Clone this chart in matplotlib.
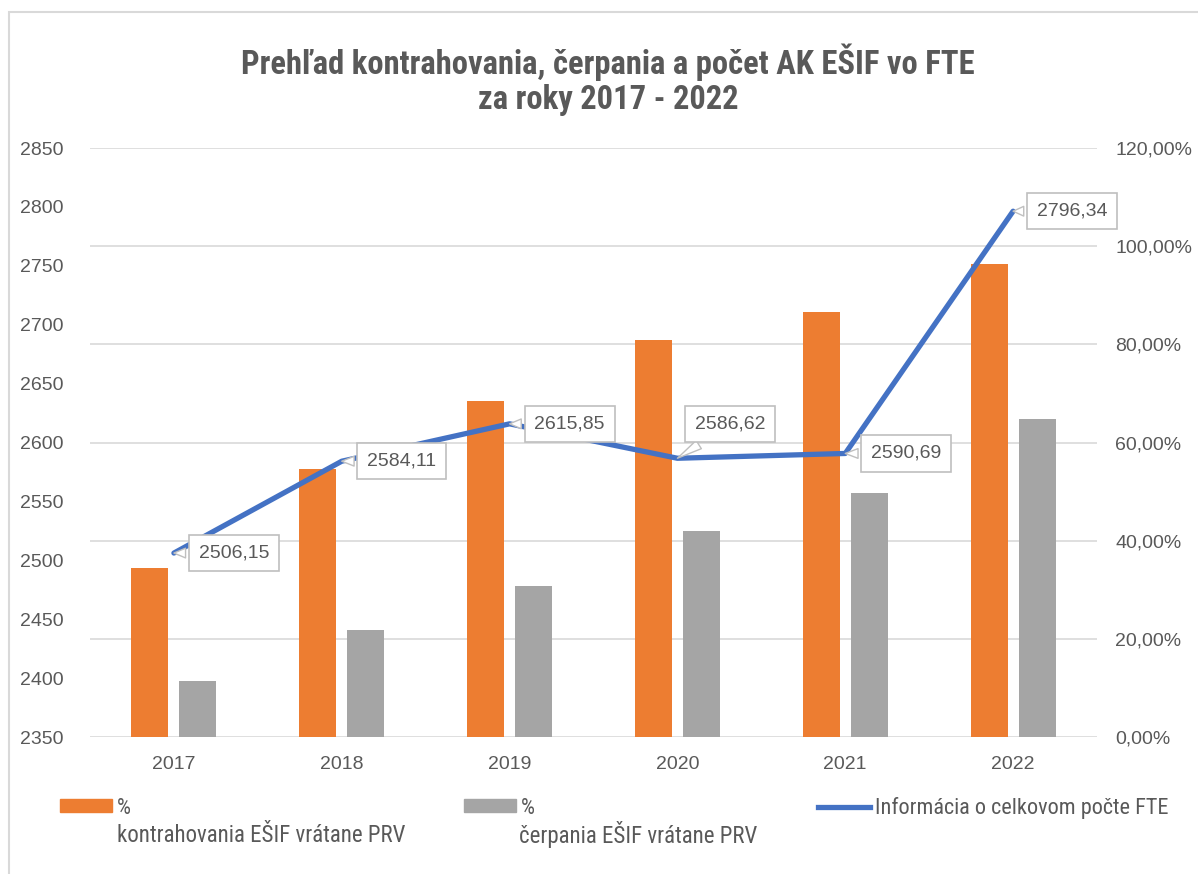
import matplotlib.pyplot as plt
import matplotlib.patches as mpatches
from matplotlib.lines import Line2D
import numpy as np

years = ['2017', '2018', '2019', '2020', '2021', '2022']
kontrahovanie = [34.5, 54.5, 68.5, 80.9, 86.5, 96.4]   # % kontrahovania
cerpanie = [11.35, 21.8, 30.8, 42.0, 49.65, 64.85]     # % cerpania
fte = [2506.15, 2584.11, 2615.85, 2586.62, 2590.69, 2796.34]

orange = '#ED7D31'
gray = '#A5A5A5'
blue = '#4472C4'
txt = '#595959'
narrow = ['Liberation Sans Narrow', 'Roboto Condensed', 'Archivo Narrow', 'DejaVu Sans']
plt.rcParams['font.family'] = ['Liberation Sans', 'Arimo', 'DejaVu Sans']

W, H = 1198, 874
fig = plt.figure(figsize=(W / 100, H / 100), dpi=100)
ax = fig.add_axes([90 / W, 1 - 737 / H, 1007 / W, 589 / H])
ax2 = ax.twinx()

x = np.arange(len(years))
ax2.bar(x - 0.143, kontrahovanie, width=0.22, color=orange)
ax2.bar(x + 0.143, cerpanie, width=0.22, color=gray)
ax2.set_ylim(0, 120)
ax2.set_yticks(np.arange(0, 121, 20))
ax2.set_yticklabels([f'{v:.2f}%'.replace('.', ',') for v in np.arange(0, 121, 20)])
ax2.grid(axis='y', color='#D9D9D9', lw=1.2)
ax2.set_axisbelow(True)

ax.plot(x, fte, color=blue, lw=3.8, solid_capstyle='round')
ax.set_ylim(2350, 2850)
ax.set_yticks(np.arange(2350, 2851, 50))
ax.set_xlim(-0.5, 5.5)
ax.set_xticks(x)
ax.set_xticklabels(years)
ax.set_zorder(ax2.get_zorder() + 1)
ax.patch.set_visible(False)

for a in (ax, ax2):
    for s in a.spines.values():
        s.set_visible(False)
    a.tick_params(length=0, labelsize=14, labelcolor=txt)
ax.tick_params(axis='y', pad=19)
ax.tick_params(axis='x', pad=14)
ax2.tick_params(axis='y', pad=13)

# callout labels
offsets = [(60, 0), (60, 0), (60, 0), (53, 34), (61, 0), (59, 0)]
for xi, v, (dx, dy) in zip(x, fte, offsets):
    ax.annotate(f'{v:.2f}'.replace('.', ','), xy=(xi, v), xytext=(dx, dy),
                textcoords='offset pixels', ha='center', va='center',
                fontsize=14, color=txt,
                bbox=dict(boxstyle='square,pad=0.5', fc='white', ec='#BFBFBF', lw=1.2),
                arrowprops=dict(arrowstyle='wedge,tail_width=0.5,shrink_factor=0.5',
                                fc='white', ec='#BFBFBF', lw=1.0, shrinkB=0))

# title
fig.text(608 / W, 1 - 62 / H, 'Prehľad kontrahovania, čerpania a počet AK EŠIF vo FTE',
         ha='center', va='center', fontsize=23.5, fontweight='bold', color=txt, family=narrow)
fig.text(608 / W, 1 - 100 / H, 'za roky 2017 - 2022',
         ha='center', va='center', fontsize=23.5, fontweight='bold', color=txt, family=narrow)

# legend
handles = [mpatches.Patch(color=orange), mpatches.Patch(color=gray),
           Line2D([], [], color=blue, lw=3.8)]
labels = ['%', '%', 'Informácia o celkovom počte FTE']
anchors = [60, 464, 818]
for h, l, ax0 in zip(handles, labels, anchors):
    fig.legend([h], [l], loc='center left', bbox_to_anchor=(ax0 / W, 1 - 808 / H),
               frameon=False, handlelength=2.34, handleheight=0.54, handletextpad=0.23,
               borderaxespad=0, borderpad=0, prop={'family': narrow, 'size': 16},
               labelcolor=txt)
fig.text(117 / W, 1 - 835 / H, 'kontrahovania EŠIF vrátane PRV', ha='left', va='center',
         fontsize=16.5, color=txt, family=narrow)
fig.text(519 / W, 1 - 835 / H, 'čerpania EŠIF vrátane PRV', ha='left', va='center',
         fontsize=16.5, color=txt, family=narrow)

# chart frame
fig.patches.append(mpatches.Rectangle((9 / W, -0.02), 1.1, 1 - 12 / H + 0.02,
                                      transform=fig.transFigure, fill=False,
                                      ec='#D9D9D9', lw=1.5))

fig.savefig('out.png', dpi=100)
